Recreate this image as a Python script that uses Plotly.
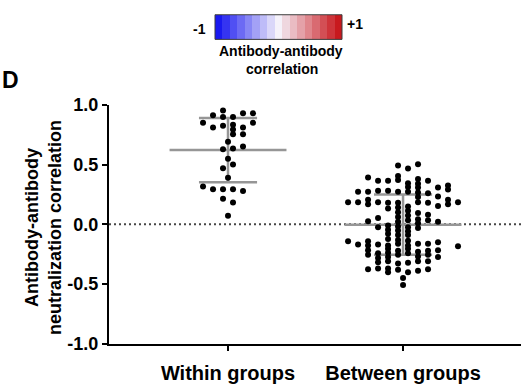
import numpy as np
import plotly.graph_objects as go

# ---------------- data ----------------
GROUPS = ["Within groups", "Between groups"]
GROUP_POS = [1, 2]

within_vals = [0.952, 0.913, 0.897, 0.897, 0.929, 0.929, 0.849, 0.81, 0.825, 0.833,
               0.794, 0.81, 0.849, 0.754, 0.754, 0.69, 0.627, 0.635, 0.65, 0.548,
               0.5, 0.468, 0.389, 0.317, 0.294, 0.294, 0.294, 0.278, 0.214, 0.183, 0.071]
within_slot = [-0.5, -1.5, -0.5, 0.5, 1.5, 2.5, -2.5, -1.5, -0.5, 0.5,
               0.5, 1.5, 2.5, 0.5, 1.5, 0, -0.5, 0.5, 1.5, 0,
               0.5, -0.5, 0, -2.5, -1.5, -0.5, 0.5, 1.5, -0.5, 0.5, 0]

between_vals = [0.492, 0.466, 0.503, 0.392, 0.365, 0.365, 0.405, 0.37, 0.344, 0.378,
                0.339, 0.365, 0.312, 0.307, 0.307, 0.325, 0.291, 0.272, 0.272, 0.28,
                0.28, 0.272, 0.272, 0.265, 0.259, 0.228, 0.233, 0.185, 0.185, 0.206,
                0.167, 0.185, 0.18, 0.132, 0.18, 0.14, 0.148, 0.114, 0.185, 0.18,
                0.153, 0.206, 0.167, 0.185, 0.1, 0.095, 0.079, 0.026, 0.053, -0.026,
                0.061, 0.021, -0.018, 0.074, 0.034, 0.042, 0.008, 0.034, 0.021, -0.01,
                -0.045, -0.053, -0.026, -0.058, -0.032, -0.079, -0.09, -0.124, -0.09, -0.132,
                -0.137, -0.143, -0.169, -0.143, -0.177, -0.169, -0.177, -0.204, -0.164, -0.177,
                -0.204, -0.164, -0.164, -0.151, -0.185, -0.217, -0.256, -0.243, -0.283, -0.238,
                -0.275, -0.222, -0.256, -0.243, -0.23, -0.27, -0.222, -0.256, -0.217, -0.275,
                -0.317, -0.31, -0.328, -0.323, -0.31, -0.31, -0.376, -0.37, -0.37, -0.402,
                -0.381, -0.402, -0.389, -0.376, -0.45, -0.508]
between_slot = [-0.5, 0.5, 1.5, -3.5, -2.5, -1.5, -0.5, -0.5, 0.5, 1.5,
                1.5, 2.5, 0.5, 1.5, 3.5, 4.5, 4.5, -4.5, -3.5, -2.5,
                -1.5, -0.5, 0.5, 1.5, 2.5, 1.5, 3.5, -5.5, -4.5, -3.5,
                -3.5, -2.5, -1.5, -1.5, -0.5, -0.5, 0.5, 0.5, 1.5, 2.5,
                3.5, 4.5, 4.5, 5.5, -0.5, 1.5, 2.5, -3.5, -2.5, -2.5,
                -0.5, -0.5, -0.5, 0.5, 0.5, 1.5, 1.5, 2.5, 3.5, -1.5,
                -1.5, -0.5, 0.5, 0.5, 1.5, -1.5, -0.5, -1.5, 0.5, -0.5,
                0.5, -5.5, -4.5, -3.5, -3.5, -2.5, -1.5, -1.5, -0.5, 0.5,
                0.5, 1.5, 2.5, 3.5, 5.5, -3.5, -3.5, -2.5, -2.5, -1.5,
                -1.5, -0.5, -0.5, 0.5, 1.5, 1.5, 2.5, 2.5, 3.5, 3.5,
                -2.5, -1.5, -0.5, 0.5, 1.5, 2.5, -3.5, -2.5, -1.5, -1.5,
                -0.5, 0.5, 1.5, 2.5, 0, 0]

Y_TICKS = [-1.0, -0.5, 0.0, 0.5, 1.0]
Y_TICK_LABELS = ["-1.0", "-0.5", "0.0", "0.5", "1.0"]

CBAR_STEPS = [-1.0, -0.875, -0.75, -0.625, -0.5, -0.375, -0.25, -0.125, 0.0,
              0.125, 0.25, 0.375, 0.5, 0.625, 0.75, 0.875, 1.0]

# ---------------- styling ----------------
W, H = 521, 385
FONT = "Arial, Liberation Sans, sans-serif"
SLOT = 0.0571          # horizontal spacing of swarm dots (x units)
MEAN_HALF = 0.334
SD_HALF = 0.166
LINE_GREY = "rgb(150,150,150)"

fig = go.Figure()

groups_data = [(within_vals, within_slot), (between_vals, between_slot)]

# mean / SD lines
for pos, (vals, slots) in zip(GROUP_POS, groups_data):
    v = np.array(vals)
    m = v.mean()
    sd = v.std(ddof=1)
    for y, half in [(m, MEAN_HALF), (m + sd, SD_HALF), (m - sd, SD_HALF)]:
        fig.add_trace(go.Scatter(x=[pos - half, pos + half], y=[y, y], mode="lines",
                                 line=dict(color=LINE_GREY, width=2.5),
                                 showlegend=False, hoverinfo="skip"))
    fig.add_trace(go.Scatter(x=[pos, pos], y=[m - sd, m + sd], mode="lines",
                             line=dict(color=LINE_GREY, width=2.5),
                             showlegend=False, hoverinfo="skip"))

# dots
for pos, (vals, slots) in zip(GROUP_POS, groups_data):
    xs = [pos + s * SLOT for s in slots]
    fig.add_trace(go.Scatter(x=xs, y=vals, mode="markers",
                             marker=dict(color="black", size=6),
                             showlegend=False))

# colour key heatmap
fig.add_trace(go.Heatmap(z=[CBAR_STEPS], x=list(range(len(CBAR_STEPS))), y=[0],
                         zmin=-1, zmax=1,
                         colorscale=[[0, "rgb(25,25,240)"], [0.5, "rgb(245,242,250)"],
                                     [1, "rgb(200,25,30)"]],
                         showscale=False, xaxis="x2", yaxis="y2", hoverinfo="skip"))

x0_px, x1_px = 109, W
y_top_px, y_bot_px = 100, 352

fig.update_layout(
    width=W, height=H,
    margin=dict(l=0, r=0, t=0, b=0),
    paper_bgcolor="white", plot_bgcolor="white",
    font=dict(family=FONT, color="black"),
    xaxis=dict(domain=[x0_px / W, 1.0], range=[0.32, 2.674],
               tickvals=GROUP_POS, ticktext=["<b>%s</b>" % g for g in GROUPS],
               tickfont=dict(size=20, family=FONT, color="black"),
               ticklabelstandoff=5,
               showline=True, linecolor="black", linewidth=2,
               ticks="outside", ticklen=5, tickwidth=2, tickcolor="black",
               showgrid=False, zeroline=False, fixedrange=True),
    yaxis=dict(domain=[(H - y_bot_px) / H, (H - y_top_px) / H], range=[-1.0, 1.0],
               tickvals=Y_TICKS, ticktext=["<b>%s</b>" % t for t in Y_TICK_LABELS],
               tickfont=dict(size=18, family=FONT, color="black"),
               showline=True, linecolor="black", linewidth=2,
               ticks="outside", ticklen=5, tickwidth=2, tickcolor="black",
               showgrid=False, zeroline=False, fixedrange=True),
    xaxis2=dict(domain=[215 / W, 342 / W], anchor="y2", visible=False,
                range=[-0.5, len(CBAR_STEPS) - 0.5], fixedrange=True),
    yaxis2=dict(domain=[1 - 31 / H, 1 - 5 / H], anchor="x2", visible=False,
                range=[-0.5, 0.5], fixedrange=True),
)

# dotted zero line
fig.add_shape(type="line", xref="x domain", yref="y", x0=0, x1=1, y0=0, y1=0,
              line=dict(color="rgb(70,70,70)", width=2, dash="2px,3px"), layer="below")

# colour key border
fig.add_shape(type="rect", xref="paper", yref="paper",
              x0=215 / W, x1=342 / W, y0=1 - 31 / H, y1=1 - 5 / H,
              line=dict(color="rgb(60,60,60)", width=1))

def ann(text, x, y, size, xanchor="center", **kw):
    fig.add_annotation(text=text, x=x / W, y=1 - y / H, xref="paper", yref="paper",
                       xanchor=xanchor, yanchor="middle",
                       showarrow=False, font=dict(size=size, family=FONT, color="black"), **kw)

ann("<b>-1</b>", 199, 20, 14)
ann("<b>+1</b>", 355, 15, 14)
ann("<b>Antibody-antibody</b>", 281, 43, 14)
ann("<b>correlation</b>", 282, 62, 14)
ann("<b>D</b>", 0, 74, 23, xanchor="left")
ann("<b>Antibody-antibody<br>neutralization correlation</b>", 43, 230, 18, textangle=-90)

fig.write_html("out.html")
